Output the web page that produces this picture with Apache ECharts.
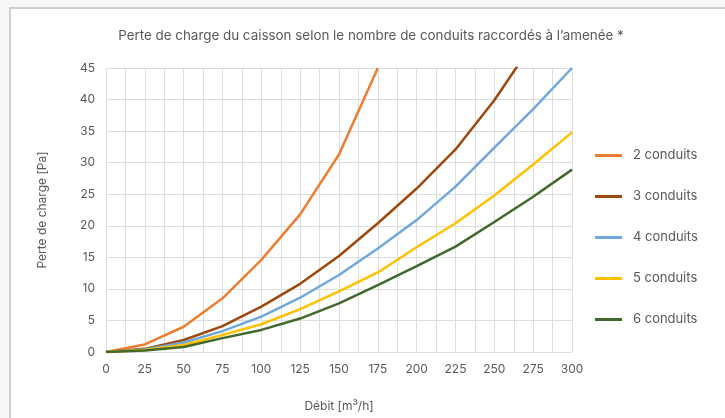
<!DOCTYPE html>
<html>
<head>
<meta charset="utf-8">
<script src="https://cdn.jsdelivr.net/npm/echarts@6/dist/echarts.min.js"></script>
<style>
  html, body { margin: 0; padding: 0; background: #f7f7f7; }
  .panel {
    position: absolute; left: 9px; top: 7px; width: 800px; height: 500px;
    background: #fff; border-left: 2px solid #cfcfcf; border-top: 2px solid #cfcfcf;
  }
  #chart { position: absolute; left: 0; top: 0; width: 725px; height: 418px; }
</style>
</head>
<body>
<div class="panel"></div>
<div id="chart"></div>
<script>
// débit [m3/h]
const debit = [0, 25, 50, 75, 100, 125, 150, 175, 200, 225, 250, 275, 300]

// perte de charge [Pa] par nombre de conduits
const c2 = [0, 1.2, 4.0, 8.5, 14.6, 21.8, 31.3, 45]
const c3 = [0, 0.5, 1.9, 4.1, 7.2, 10.8, 15.2, 20.4, 25.9, 32.1, 39.9, 49]
const c4 = [0, 0.4, 1.5, 3.3, 5.6, 8.6, 12.2, 16.4, 20.9, 26.2, 32.4, 38.5, 45]
const c5 = [0, 0.3, 1.1, 2.7, 4.4, 6.8, 9.6, 12.6, 16.6, 20.4, 24.8, 29.7, 34.8]
const c6 = [0, 0.25, 0.8, 2.2, 3.5, 5.3, 7.7, 10.6, 13.6, 16.7, 20.6, 24.6, 28.9]

const seriesNames = ['2 conduits', '3 conduits', '4 conduits', '5 conduits', '6 conduits']
const seriesValues = [c2, c3, c4, c5, c6]
const colors = ['#ED7D31', '#9E480E', '#6FA8DC', '#FFC000', '#43682B']

const textColor = '#595959'
const font = 'Inter, "Noto Sans", sans-serif'
const gridColor = '#dedede'

const chart = echarts.init(document.getElementById('chart'))

chart.setOption({
  animation: false,
  textStyle: { fontFamily: font, color: textColor },
  title: {
    text: 'Perte de charge du caisson selon le nombre de conduits raccordés à l\u2019amenée *',
    left: 366,
    top: 24,
    textAlign: 'center',
    textStyle: { fontFamily: font, fontSize: 13.4, fontWeight: 'normal', color: textColor }
  },
  legend: {
    orient: 'vertical',
    left: 595,
    top: 149,
    padding: 0,
    icon: 'rect',
    itemWidth: 27,
    itemHeight: 3,
    itemGap: 28,
    textStyle: { fontFamily: font, fontSize: 13, color: textColor, padding: [0, 0, 0, 6] },
    data: seriesNames
  },
  grid: { left: 106, right: 153, top: 68, bottom: 66 },
  xAxis: {
    type: 'value',
    min: 0,
    max: 300,
    interval: 25,
    name: 'Débit [m³/h]',
    nameLocation: 'middle',
    nameGap: 48,
    nameTextStyle: { fontFamily: font, fontSize: 12, color: textColor },
    axisLine: { show: false },
    axisTick: { show: false },
    axisLabel: { fontFamily: font, fontSize: 12, color: textColor, margin: 11 },
    splitLine: { show: true, lineStyle: { color: gridColor, width: 1 } },
    minorTick: { show: false, splitNumber: 2 },
    minorSplitLine: { show: true, lineStyle: { color: gridColor, width: 1 } }
  },
  yAxis: {
    type: 'value',
    min: 0,
    max: 45,
    interval: 5,
    name: 'Perte de charge [Pa]',
    nameLocation: 'middle',
    nameGap: 58,
    nameRotate: 90,
    nameTextStyle: { fontFamily: font, fontSize: 12, color: textColor },
    axisLine: { show: false },
    axisTick: { show: false },
    axisLabel: { fontFamily: font, fontSize: 12, color: textColor, margin: 11 },
    splitLine: { show: true, lineStyle: { color: gridColor, width: 1 } }
  },
  series: seriesNames.map((name, i) => ({
    name,
    type: 'line',
    data: seriesValues[i].map((v, j) => [debit[j], v]),
    symbol: 'none',
    clip: true,
    lineStyle: { width: 2.5, color: colors[i] },
    itemStyle: { color: colors[i] }
  }))
})
</script>
</body>
</html>
